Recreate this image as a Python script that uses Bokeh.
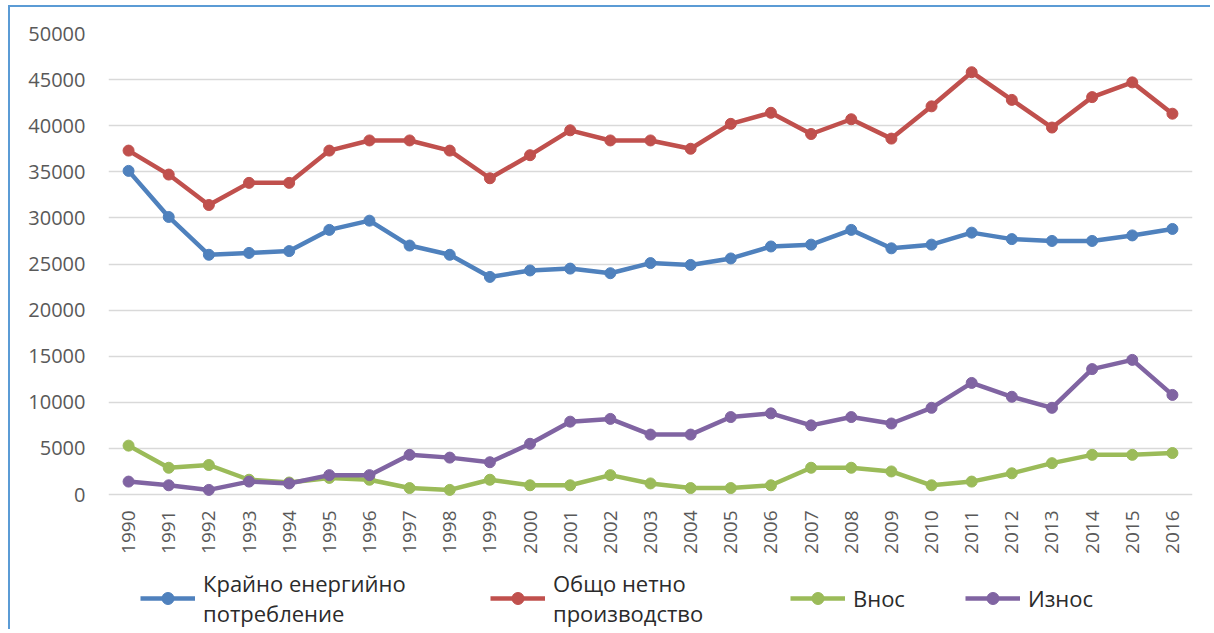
from bokeh.plotting import figure
from bokeh.models import ColumnDataSource, FactorRange, Range1d, Legend, LegendItem, FixedTicker
from bokeh.core.properties import value
from bokeh.embed import file_html
from bokeh.resources import INLINE
from math import pi

years = [str(y) for y in range(1990, 2017)]

consumption = [35100, 30100, 26000, 26200, 26400, 28700, 29700, 27000, 26000, 23600,
               24300, 24500, 24000, 25100, 24900, 25600, 26900, 27100, 28700, 26700,
               27100, 28400, 27700, 27500, 27500, 28100, 28800]
production = [37300, 34700, 31400, 33800, 33800, 37300, 38400, 38400, 37300, 34300,
              36800, 39500, 38400, 38400, 37500, 40200, 41400, 39100, 40700, 38600,
              42100, 45800, 42800, 39800, 43100, 44700, 41300]
imports = [5300, 2900, 3200, 1600, 1300, 1800, 1600, 700, 500, 1600,
           1000, 1000, 2100, 1200, 700, 700, 1000, 2900, 2900, 2500,
           1000, 1400, 2300, 3400, 4300, 4300, 4500]
exports = [1400, 1000, 500, 1400, 1200, 2100, 2100, 4300, 4000, 3500,
           5500, 7900, 8200, 6500, 6500, 8400, 8800, 7500, 8400, 7700,
           9400, 12100, 10600, 9400, 13600, 14600, 10800]

names = ["Крайно енергийно\nпотребление", "Общо нетно\nпроизводство", "Внос", "Износ"]
colors = ["#4F81BD", "#C0504D", "#9BBB59", "#8064A2"]
y_ticks = list(range(0, 50001, 5000))

FONT = "Open Sans"

W, H = 1202, 624
TOP, ZERO_PX = 26, 487          # canvas px of 50000 and of 0
y_max = 50000
y_min = -y_max * (H - ZERO_PX) / (ZERO_PX - TOP)

p = figure(width=W, height=H, output_backend="svg", toolbar_location=None,
           x_range=FactorRange(*years, range_padding=0), y_range=Range1d(y_min, y_max),
           min_border_left=98, min_border_right=W - 1182, min_border_top=TOP, min_border_bottom=0,
           styles={"border-left": "2px solid #5B9BD5", "border-top": "2px solid #5B9BD5",
                   "margin-left": "8px", "margin-top": "5px"})
p.outline_line_color = None
p.xaxis.visible = False

src = ColumnDataSource(dict(x=years, c=consumption, p=production, i=imports, e=exports))
renderers = []
for key, col in zip(["c", "p", "i", "e"], colors):
    l = p.line("x", key, source=src, line_color=col, line_width=4.5)
    s = p.scatter("x", key, source=src, size=11, fill_color=col, line_color=col)
    renderers.append([l, s])

# year labels under the zero line
px_per_unit = (ZERO_PX - TOP) / y_max
p.text(x=years, y=[-16 / px_per_unit] * len(years), text=years, angle=pi / 2,
       text_align="right", text_baseline="middle", text_font=value(FONT),
       text_font_size="19px", text_color="#595959")

p.yaxis.ticker = FixedTicker(ticks=y_ticks)
p.yaxis.axis_line_color = None
p.yaxis.major_tick_line_color = None
p.yaxis.minor_tick_line_color = None
p.yaxis.major_label_standoff = 17
p.yaxis.major_label_text_font = FONT
p.yaxis.major_label_text_font_size = "20px"
p.yaxis.major_label_text_color = "#595959"

p.xgrid.grid_line_color = None
p.ygrid.grid_line_color = "#D9D9D9"
p.ygrid.grid_line_width = 1.5

# one legend box per entry, placed like the reference's legend row
legend_x = [32, 382, 682, 857]
for name, rs, lx in zip(names, renderers, legend_x):
    two_lines = "\n" in name
    lg = Legend(items=[LegendItem(label=name, renderers=rs)], orientation="horizontal",
                location=(lx, 3 if two_lines else 18))
    lg.border_line_color = None
    lg.background_fill_alpha = 0
    lg.glyph_width = 55
    lg.glyph_height = 30
    lg.label_standoff = 8
    lg.padding = 0
    lg.margin = 0
    lg.label_text_font = FONT
    lg.label_text_font_size = "22px"
    lg.label_text_color = "#2B2B2B"
    lg.label_text_line_height = 1.6
    p.add_layout(lg, "center")

open("out.html", "w").write(file_html(p, INLINE))
